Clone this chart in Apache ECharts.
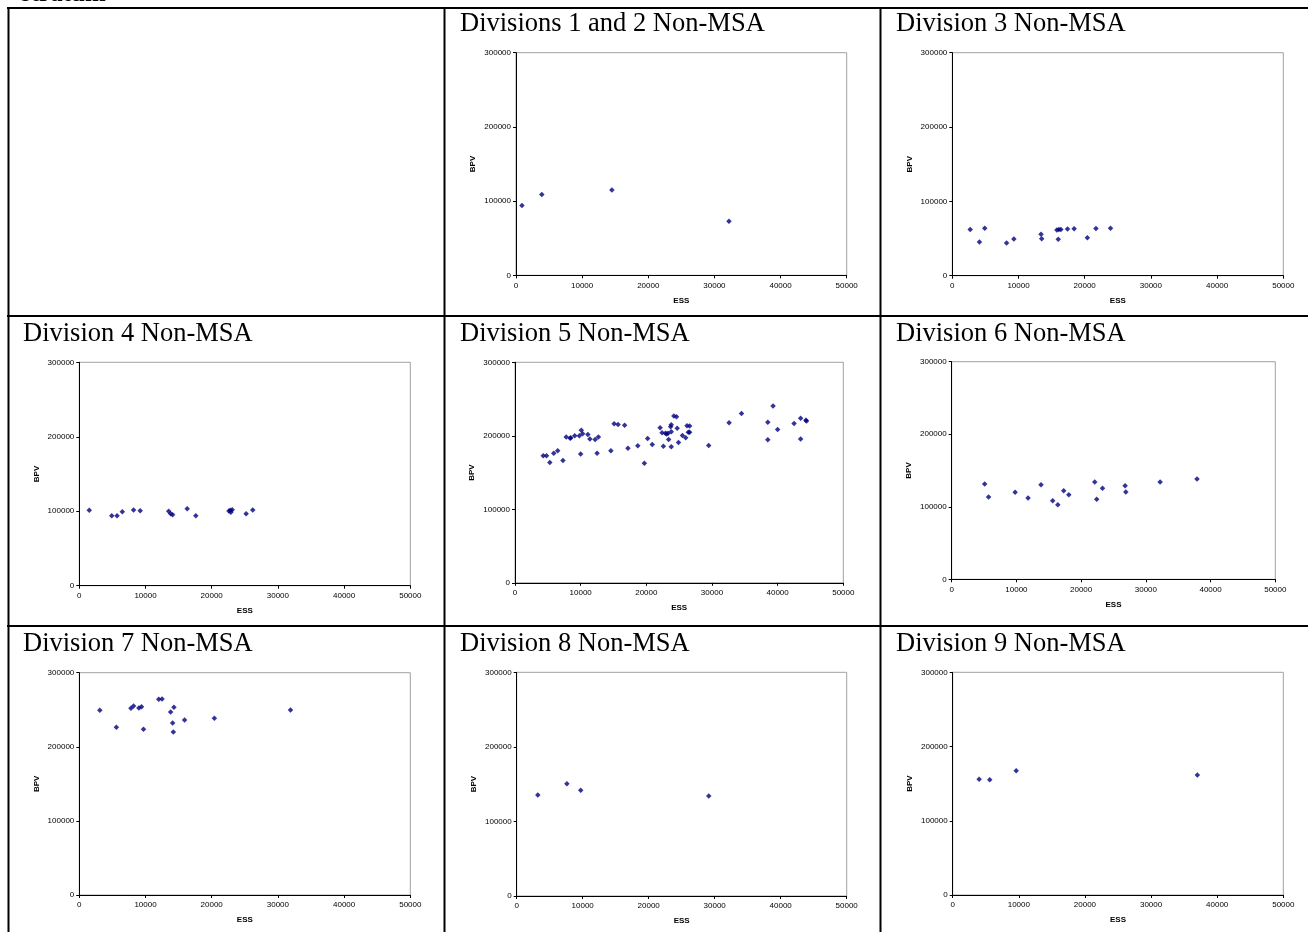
<!DOCTYPE html>
<html>
<head>
<meta charset="utf-8">
<script src="https://cdn.jsdelivr.net/npm/echarts@6/dist/echarts.min.js"></script>
<style>
html,body{margin:0;padding:0;background:#fff;}
#main{width:1308px;height:932px;}
</style>
</head>
<body>
<div id="main"></div>
<script>
var myChart = echarts.init(document.getElementById('main'));

/*各区数据 ESS / BPV*/
var div12Ess = [900, 3900, 14500, 32200];
var div12Bpv = [94000, 109000, 115000, 73000];

var div3Ess = [2700, 4100, 4900, 8200, 9300, 13400, 13500, 15800, 16000, 16100, 16400, 17400, 18400, 20400, 21700, 23900];
var div3Bpv = [62300, 45300, 63700, 43900, 49300, 55600, 49800, 61400, 48900, 62300, 62300, 62800, 63200, 51100, 63600, 64000];

var div4Ess = [1500, 4900, 5700, 6500, 8200, 9200, 13500, 13800, 14100, 16300, 17600, 22600, 22800, 22900, 23100, 25200, 26200];
var div4Bpv = [101200, 94000, 94000, 99400, 101600, 100700, 99900, 96700, 95400, 103400, 94000, 100300, 101200, 98500, 102100, 96700, 101600];

var div5Ess = [4300, 4800, 5300, 5900, 6500, 7300, 7800, 8400, 8500, 9100, 9800, 10100, 10300, 10000, 11100, 11400, 12200, 12700, 12500, 14600,
    15100, 15700, 16700, 17200, 18700, 19700, 20200, 20900, 22100, 22400, 22600, 22900, 23100, 23300, 23400, 23700, 23800, 23800, 23800,
    24200, 24600, 24700, 24900, 25500, 26000, 26200, 26400, 26600, 26600, 29500, 32600, 34500, 38500, 38500, 39300, 40000, 42500, 43500,
    43500, 44300, 44400];
var div5Bpv = [172800, 172800, 163700, 176400, 179600, 166400, 198200, 196800, 197300, 200000, 200000, 207700, 202700, 175100, 201800,
    195500, 195000, 198200, 176400, 179600, 216300, 215400, 214500, 183200, 186400, 162800, 196400, 188200, 210900, 204100, 185900,
    203600, 202300, 203600, 195000, 212200, 215000, 205400, 185000, 226800, 225900, 210400, 190900, 200500, 197300, 213600, 205000,
    205000, 213200, 186800, 217700, 230400, 218600, 194600, 240400, 208600, 216800, 224000, 195500, 221300, 220000];

var div6Ess = [5100, 5700, 9800, 11800, 13800, 15600, 16400, 17300, 18100, 22100, 22400, 23300, 26800, 26900, 32200, 37900];
var div6Bpv = [131400, 113500, 119900, 112100, 130500, 108400, 102900, 122200, 116700, 134100, 110200, 125400, 129100, 120400, 134100, 138300];

var div7Ess = [3100, 5600, 7800, 8200, 9000, 9400, 9700, 12000, 12500, 13800, 14300, 14100, 14200, 15900, 20400, 31900];
var div7Bpv = [249200, 226300, 251900, 255000, 252400, 254200, 223600, 264100, 264500, 247000, 253300, 232100, 220000, 236200, 238400, 249700];

var div8Ess = [3200, 7600, 9700, 29100];
var div8Bpv = [135500, 150700, 141700, 134100];

var div9Ess = [4000, 5600, 9600, 37000];
var div9Bpv = [155800, 155400, 167500, 161700];

var titles = ['Divisions 1 and 2 Non-MSA', 'Division 3 Non-MSA', 'Division 4 Non-MSA', 'Division 5 Non-MSA',
    'Division 6 Non-MSA', 'Division 7 Non-MSA', 'Division 8 Non-MSA', 'Division 9 Non-MSA'];
var essList = [div12Ess, div3Ess, div4Ess, div5Ess, div6Ess, div7Ess, div8Ess, div9Ess];
var bpvList = [div12Bpv, div3Bpv, div4Bpv, div5Bpv, div6Bpv, div7Bpv, div8Bpv, div9Bpv];
var xTicks = [0, 10000, 20000, 30000, 40000, 50000];
var yTicks = [0, 100000, 200000, 300000];

// 每格的位置: 标题 left/top, 绘图区 left/top/width/height
var boxes = [
    {tl: 460, tt: 11,  l: 516,   t: 52.7,  w: 330.7, h: 222.6},
    {tl: 896, tt: 11,  l: 952.3, t: 52.7,  w: 331,   h: 223},
    {tl: 23,  tt: 321, l: 79.3,  t: 362.3, w: 331,   h: 223.4},
    {tl: 460, tt: 321, l: 515,   t: 362.3, w: 328.3, h: 220.5},
    {tl: 896, tt: 321, l: 951.7, t: 361.7, w: 323.6, h: 217.6},
    {tl: 23,  tt: 631, l: 79.3,  t: 672.7, w: 331,   h: 222.3},
    {tl: 460, tt: 631, l: 516.7, t: 672.3, w: 330,   h: 223.7},
    {tl: 896, tt: 631, l: 952.7, t: 672.3, w: 330.6, h: 222.7}
];

var titleArr = [], grids = [], xAxes = [], yAxes = [], seriesArr = [];
for (var i = 0; i < boxes.length; i++) {
    var b = boxes[i];
    titleArr.push({
        text: titles[i], left: b.tl, top: b.tt, padding: 0,
        textStyle: {fontFamily: 'Liberation Serif', fontSize: 26.5, fontWeight: 'normal', color: '#000'}
    });
    grids.push({
        left: b.l, top: b.t, width: b.w, height: b.h,
        show: true, borderColor: '#a0a0a0', borderWidth: 1, backgroundColor: '#fff'
    });
    xAxes.push({
        gridIndex: i, type: 'value', min: xTicks[0], max: xTicks[xTicks.length - 1], interval: 10000,
        name: 'ESS', nameLocation: 'middle', nameGap: 21,
        nameTextStyle: {fontFamily: 'Liberation Sans', fontSize: 8, fontWeight: 'bold', color: '#000'},
        axisLine: {lineStyle: {color: '#000', width: 1}},
        axisTick: {show: true, length: 3, lineStyle: {color: '#000'}},
        axisLabel: {fontFamily: 'Liberation Sans', fontSize: 8, color: '#000', margin: 6,
            formatter: function (v) { return String(v); }},
        splitLine: {show: false}
    });
    yAxes.push({
        gridIndex: i, type: 'value', min: yTicks[0], max: yTicks[yTicks.length - 1], interval: 100000,
        name: 'BPV', nameLocation: 'middle', nameGap: 39,
        nameTextStyle: {fontFamily: 'Liberation Sans', fontSize: 8, fontWeight: 'bold', color: '#000'},
        axisLine: {lineStyle: {color: '#000', width: 1}},
        axisTick: {show: true, length: 3, lineStyle: {color: '#000'}},
        axisLabel: {fontFamily: 'Liberation Sans', fontSize: 8, color: '#000', margin: 5,
            formatter: function (v) { return String(v); }},
        splitLine: {show: false}
    });
    var pts = [];
    for (var k = 0; k < essList[i].length; k++) {
        pts.push([essList[i][k], bpvList[i][k]]);
    }
    seriesArr.push({
        name: titles[i], type: 'scatter', xAxisIndex: i, yAxisIndex: i,
        symbol: 'diamond', symbolSize: 5.5, itemStyle: {color: '#000080'},
        data: pts
    });
}

// 表格线和顶部残字
titleArr.push({
    text: 'stratum', left: 21, top: -18, padding: 0,
    textStyle: {fontFamily: 'Liberation Serif', fontSize: 25, fontWeight: 'bold', color: '#000'}
});
var tableLines = [];
var hy = [8, 316, 626];
for (var j = 0; j < hy.length; j++) {
    tableLines.push({type: 'line', shape: {x1: 7, y1: hy[j], x2: 1308, y2: hy[j]}, style: {stroke: '#000', lineWidth: 2}});
}
var vx = [8.5, 444.5, 880.5];
for (var j = 0; j < vx.length; j++) {
    tableLines.push({type: 'line', shape: {x1: vx[j], y1: 7, x2: vx[j], y2: 932}, style: {stroke: '#000', lineWidth: 2}});
}

var option = {
    animation: false,
    backgroundColor: '#fff',
    title: titleArr,
    grid: grids,
    xAxis: xAxes,
    yAxis: yAxes,
    graphic: tableLines,
    series: seriesArr
};
myChart.setOption(option);
</script>
</body>
</html>
